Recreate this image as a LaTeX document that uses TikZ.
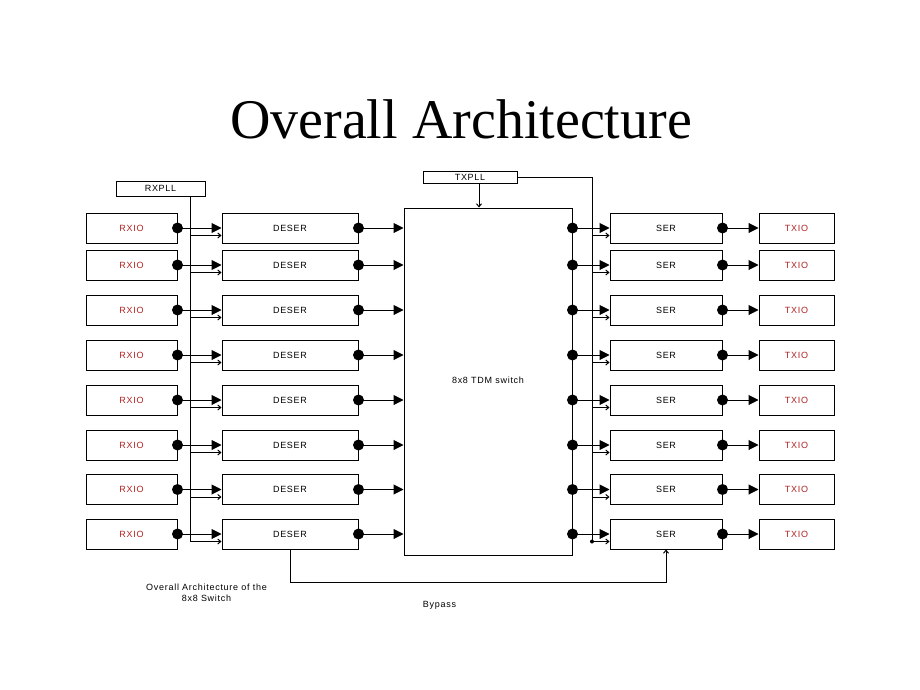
\documentclass[tikz,border=0pt]{standalone}
\usepackage{fontspec}
\setmainfont{Liberation Serif}
\newfontfamily\lblfont[LetterSpace=8]{Liberation Sans}
\usetikzlibrary{arrows.meta}
\definecolor{lblred}{RGB}{178,34,34}
\begin{document}
\begin{tikzpicture}[x=1pt,y=-1pt,line width=1pt,
  box/.style={draw,rectangle,minimum height=30pt,inner sep=0pt,font=\lblfont\fontsize{9}{10}\selectfont},
  redtext/.style={text=lblred},
  small/.style={font=\lblfont\fontsize{9}{10.5}\selectfont},
  data/.style={-{Triangle[length=10pt,width=10pt]}},
  clk/.style={-{Straight Barb[length=3pt,width=5pt]}},
  bigdot/.style={fill=black},
]
\useasboundingbox (0,0) rectangle (920,690);
\fill[white] (0,0) rectangle (920,690);

\node[anchor=base,font=\fontsize{56}{60}\selectfont] (title) at (461,138) {Overall Architecture};

\node[box,minimum width=89pt,minimum height=15pt] (rxpll) at (160.5,188.5) {RXPLL};
\node[box,minimum width=94pt,minimum height=12pt] (txpll) at (470,177) {TXPLL};
\node[box,minimum width=168pt,minimum height=347pt] (sw) at (488,381.5) {};
\node[small] (swl) at (488,380) {8x8 TDM switch};

\foreach \i/\y in {1/228,2/265,3/310,4/355,5/400,6/445,7/489.5,8/534}{
  \node[box,redtext,minimum width=91pt] (rx\i) at (131.5,\y) {RXIO};
  \node[box,minimum width=136pt] (de\i) at (290,\y) {DESER};
  \node[box,minimum width=112pt] (se\i) at (666,\y) {SER};
  \node[box,redtext,minimum width=75pt] (tx\i) at (796.5,\y) {TXIO};
  \coordinate (rc\i) at (190,\y+7.5);
  \coordinate (tc\i) at (592,\y+7.5);
  \coordinate (so\i) at (sw.east |- se\i.west);
  \coordinate (si\i) at (sw.west |- de\i.east);
  \draw[data] (rx\i.east) -- (de\i.west);
  \fill[bigdot] (rx\i.east) circle (5.5pt);
  \draw[data] (de\i.east) -- (si\i);
  \fill[bigdot] (de\i.east) circle (5.5pt);
  \draw[data] (so\i) -- (se\i.west);
  \fill[bigdot] (so\i) circle (5.5pt);
  \draw[data] (se\i.east) -- (tx\i.west);
  \fill[bigdot] (se\i.east) circle (5.5pt);
  \draw[clk] (rc\i) -- (de\i.west |- rc\i);
  \draw[clk] (tc\i) -- (se\i.west |- tc\i);
}

\draw (rxpll.south -| rc1) -- (rc8);
\draw[clk] ([xshift=9pt]txpll.south) -- ([xshift=9pt]txpll.south |- sw.north);
\draw (txpll.east) -- (txpll.east -| tc1) -- (tc8);
\fill (tc8) circle (2pt);
\draw[clk] (de8.south) -- ++(0,33) -| (se8.south);

\node[small,align=center] (cap) at (206.5,593) {Overall Architecture of the\\8x8 Switch};
\node[small] (bp) at (439.5,605) {Bypass};
\end{tikzpicture}
\end{document}
